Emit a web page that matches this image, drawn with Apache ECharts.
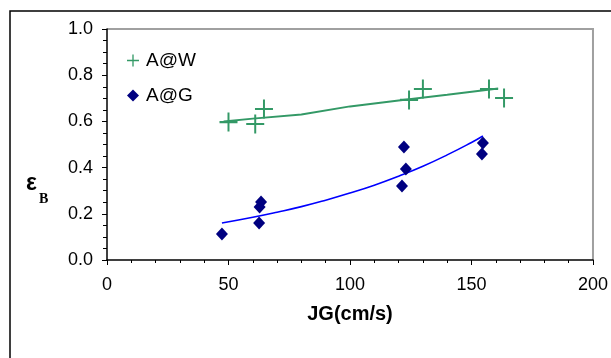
<!DOCTYPE html>
<html>
<head>
<meta charset="utf-8">
<script src="https://cdn.jsdelivr.net/npm/echarts@6/dist/echarts.min.js"></script>
<style>
html,body{margin:0;padding:0;background:#fff;}
#c{width:611px;height:358px;}
</style>
</head>
<body>
<div id="c"></div>
<script>
// Data
var awX = [50, 61, 64.6, 124.3, 130, 157.2, 163.4];
var awY = [0.597, 0.589, 0.654, 0.693, 0.740, 0.740, 0.701];
var agX = [47.3, 62.6, 62.8, 63.4, 122.2, 123, 121.4, 154.7, 154.3];
var agY = [0.113, 0.160, 0.229, 0.251, 0.489, 0.394, 0.320, 0.506, 0.459];
var awFitX = [48, 60, 80, 100, 120, 140, 161];
var awFitY = [0.600, 0.612, 0.630, 0.665, 0.690, 0.715, 0.742];
var agFitX = [47.3, 60, 70, 80, 90, 100, 110, 120, 130, 140, 150, 154.7];
var agFitY = [0.160, 0.185, 0.207, 0.231, 0.259, 0.290, 0.324, 0.363, 0.406, 0.455, 0.509, 0.537];
var xTicks = [0, 50, 100, 150, 200];
var yTicks = [0.0, 0.2, 0.4, 0.6, 0.8, 1.0];

function pairs(xs, ys) { return xs.map(function (x, i) { return [x, ys[i]]; }); }

var plusPath = 'path://M4.45,0H5.55V4.45H10V5.55H5.55V10H4.45V5.55H0V4.45H4.45Z';
var green = '#339966';
var navy = '#000080';
var font = '"Liberation Sans", Arial, sans-serif';
var xMin = xTicks[0], xMax = xTicks[xTicks.length - 1];
var yMin = yTicks[0], yMax = yTicks[yTicks.length - 1];

var chart = echarts.init(document.getElementById('c'), null, {renderer: 'canvas'});
chart.setOption({
  animation: false,
  backgroundColor: '#fff',
  grid: {left: 107, right: 17, top: 29, bottom: 98, show: false},
  xAxis: {
    type: 'value', min: xMin, max: xMax, interval: 50,
    axisLine: {show: true, lineStyle: {color: '#000', width: 1.5}},
    axisTick: {show: true, inside: false, length: 5, lineStyle: {color: '#000'}},
    minorTick: {show: true, splitNumber: 5, length: 3, lineStyle: {color: '#000'}},
    splitLine: {show: false},
    axisLabel: {color: '#000', fontSize: 18, fontFamily: font, margin: 16},
    name: 'JG(cm/s)', nameLocation: 'middle', nameGap: 44,
    nameTextStyle: {color: '#000', fontSize: 20, fontWeight: 'bold', fontFamily: font}
  },
  yAxis: {
    type: 'value', min: yMin, max: yMax, interval: 0.2,
    axisLine: {show: true, lineStyle: {color: '#000', width: 1.5}},
    axisTick: {show: true, inside: false, length: 5, lineStyle: {color: '#000'}},
    minorTick: {show: true, splitNumber: 4, length: 4, lineStyle: {color: '#000'}},
    splitLine: {show: false},
    axisLabel: {color: '#000', fontSize: 18, fontFamily: font, margin: 14,
      formatter: function (v) { return v.toFixed(1); }}
  },
  legend: {
    orient: 'vertical', left: 122, top: 46, itemGap: 16,
    itemWidth: 12, itemHeight: 12,
    textStyle: {color: '#000', fontSize: 19, fontFamily: font, padding: [0, 0, 0, 2]},
    data: [{name: 'A@W', icon: plusPath}, {name: 'A@G', icon: 'diamond'}]
  },
  series: [
    {name: 'fitW', type: 'line', data: pairs(awFitX, awFitY), showSymbol: false,
     lineStyle: {color: green, width: 2}, z: 1},
    {name: 'fitG', type: 'line', data: pairs(agFitX, agFitY), showSymbol: false,
     lineStyle: {color: '#0000ff', width: 1.6}, z: 1, smooth: true},
    {name: 'A@W', type: 'scatter', data: pairs(awX, awY), symbol: plusPath, symbolSize: [18, 19],
     itemStyle: {color: green, opacity: 1}, z: 3},
    {name: 'A@G', type: 'scatter', data: pairs(agX, agY), symbol: 'diamond', symbolSize: [12, 13],
     itemStyle: {color: navy, opacity: 1}, z: 3}
  ]
});

// plot-area frame (gray top/right) and outer chart frame
var tl = chart.convertToPixel({gridIndex: 0}, [xMin, yMax]);
var br = chart.convertToPixel({gridIndex: 0}, [xMax, yMin]);
chart.setOption({
  graphic: [
    {type: 'rect', shape: {x: 10, y: 11, width: 640, height: 400},
     style: {fill: 'none', stroke: '#000', lineWidth: 1.5}, z: -1},
    {type: 'polyline', shape: {points: [[tl[0], tl[1]], [br[0], tl[1]], [br[0], br[1]]]},
     style: {fill: 'none', stroke: '#a0a0a0', lineWidth: 2}, z: 0},
    {type: 'text', x: 26, y: 184,
     style: {text: 'ε', font: 'bold 23px "Liberation Sans", Arial, sans-serif', fill: '#000',
             textVerticalAlign: 'middle', verticalAlign: 'middle'}},
    {type: 'text', x: 39, y: 199,
     style: {text: 'B', font: 'bold 14px "Liberation Serif", "Times New Roman", serif', fill: '#000',
             textVerticalAlign: 'middle', verticalAlign: 'middle'}}
  ]
});
</script>
</body>
</html>
